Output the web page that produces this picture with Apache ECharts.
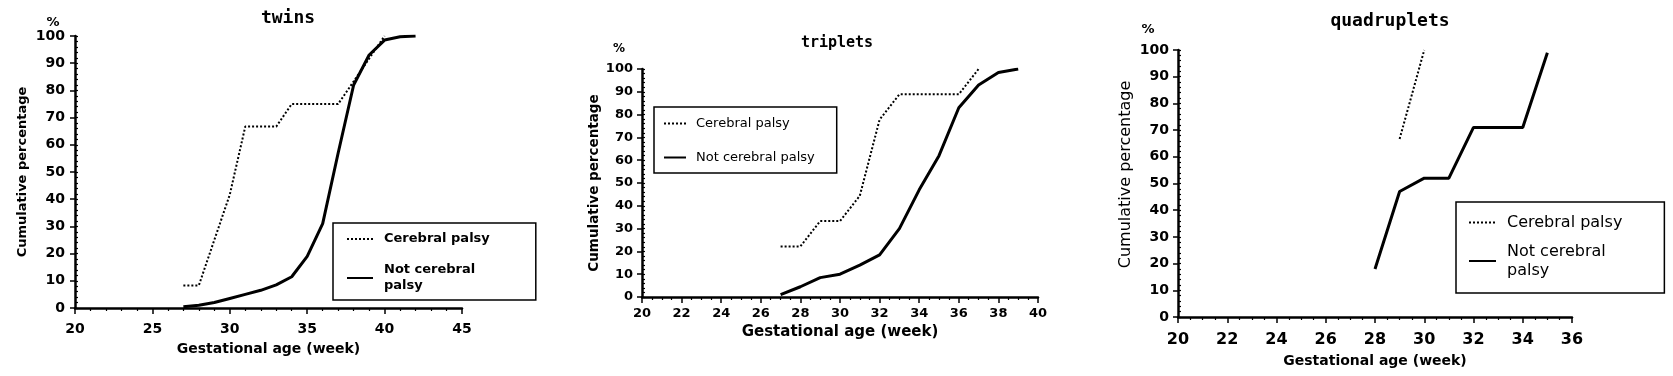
<!DOCTYPE html>
<html>
<head>
<meta charset="utf-8">
<script src="https://cdn.jsdelivr.net/npm/echarts@6/dist/echarts.min.js"></script>
<style>
  html, body { margin: 0; padding: 0; background: #fff; }
  #chart { width: 1673px; height: 376px; }
</style>
</head>
<body>
<div id="chart"></div>
<script>
// Cumulative percentage by gestational age, three panels

// twins
const twinsCpWeeks = [27, 28, 29, 30, 31, 32, 33, 34, 35, 36, 37, 38, 39, 40];
const twinsCp = [8.3, 8.3, 25, 41.7, 66.7, 66.7, 66.7, 75, 75, 75, 75, 83.3, 91.7, 100];
const twinsNotCpWeeks = [27, 28, 29, 30, 31, 32, 33, 34, 35, 36, 37, 38, 39, 40, 41, 42];
const twinsNotCp = [0.5, 1, 2, 3.5, 5, 6.5, 8.5, 11.5, 19, 31, 57, 82, 93, 98.5, 99.7, 100];

// triplets
const tripCpWeeks = [27, 28, 29, 30, 31, 32, 33, 34, 35, 36, 37];
const tripCp = [22.2, 22.2, 33.3, 33.3, 44.4, 77.8, 88.9, 88.9, 88.9, 88.9, 100];
const tripNotCpWeeks = [27, 28, 29, 30, 31, 32, 33, 34, 35, 36, 37, 38, 39];
const tripNotCp = [1, 4.5, 8.5, 10, 14, 18.5, 30, 47, 62, 83, 93, 98.5, 100];

// quadruplets
const quadCpWeeks = [29, 30];
const quadCp = [66.7, 100];
const quadNotCpWeeks = [28, 29, 30, 31, 32, 33, 34, 35];
const quadNotCp = [18, 47, 52, 52, 71, 71, 71, 99];

const zip = (xs, ys) => xs.map((x, i) => [x, ys[i]]);

const SANS = 'DejaVu Sans';
const MONO = 'DejaVu Sans Mono';

const chart = echarts.init(document.getElementById('chart'));

function xAxis(gridIndex, min, max, interval, minorSplit, o) {
    return {
        type: 'value', gridIndex, min, max, interval,
        axisLine: { show: true, onZero: false, lineStyle: { color: '#000', width: 2.5 } },
        axisTick: { show: true, length: 6, lineStyle: { color: '#000', width: 1.5 } },
        minorTick: { show: true, splitNumber: minorSplit, length: 3, lineStyle: { color: '#000', width: 1.2 } },
        splitLine: { show: false },
        axisLabel: {
            margin: o.labelMargin, color: '#000', fontFamily: SANS,
            fontWeight: 'bold', fontSize: o.labelSize
        },
        name: 'Gestational age (week)',
        nameLocation: 'middle',
        nameGap: o.nameGap,
        nameTextStyle: { color: '#000', fontFamily: SANS, fontWeight: 'bold', fontSize: o.nameSize }
    };
}

function yAxis(gridIndex, o) {
    return {
        type: 'value', gridIndex, min: 0, max: 100, interval: 10,
        position: 'left',
        axisLine: { show: true, onZero: false, lineStyle: { color: '#000', width: 2.5 } },
        axisTick: { show: true, length: 5, lineStyle: { color: '#000', width: 1.5 } },
        splitLine: { show: false },
        axisLabel: {
            margin: o.labelMargin, color: '#000', fontFamily: SANS,
            fontWeight: 'bold', fontSize: o.labelSize
        },
        name: 'Cumulative percentage',
        nameLocation: 'middle',
        nameGap: o.nameGap,
        nameTextStyle: {
            color: '#000', fontFamily: SANS,
            fontWeight: o.nameWeight || 'bold', fontSize: o.nameSize,
            padding: o.namePadding || 0
        }
    };
}

// overlay axis so the small y ticks sit inside the plot
function yMinor(gridIndex) {
    return {
        type: 'value', gridIndex, min: 0, max: 100, interval: 10,
        position: 'left', offset: 0,
        axisLine: { show: false, onZero: false },
        axisTick: { show: true, inside: true, length: 3, lineStyle: { color: '#000', width: 1.2 } },
        minorTick: { show: true, splitNumber: 5, length: 3, lineStyle: { color: '#000', width: 1.2 } },
        splitLine: { show: false },
        axisLabel: { show: false }
    };
}

const dotted = { color: '#000', width: 2, type: 'dotted' };
const solid = { color: '#000', width: 3, type: 'solid' };

function line(name, data, idx, style) {
    return {
        name, type: 'line', data,
        xAxisIndex: idx, yAxisIndex: idx,
        symbol: 'none', silent: true,
        lineStyle: style, itemStyle: { color: '#000' },
        z: style === solid ? 3 : 4
    };
}

function legend(o) {
    return {
        orient: 'vertical', left: o.left, top: o.top,
        data: o.data,
        itemWidth: o.itemWidth, itemHeight: 10, itemGap: o.itemGap,
        padding: o.padding,
        borderColor: '#000', borderWidth: 1.5,
        selectedMode: false,
        itemStyle: { color: 'rgba(0,0,0,0)', borderWidth: 0, opacity: 0 },
        textStyle: {
            color: '#000', fontFamily: SANS, fontWeight: o.weight,
            fontSize: o.fontSize, lineHeight: o.lineHeight,
            padding: [0, 0, 0, o.textGap]
        }
    };
}

function label(text, x, y, font) {
    return {
        type: 'text', x, y, silent: true,
        style: {
            text, font, fill: '#000',
            align: 'center', verticalAlign: 'middle',
            textAlign: 'center', textVerticalAlign: 'middle'
        }
    };
}

const option = {
    animation: false,
    backgroundColor: '#fff',
    grid: [
        { left: 75, top: 36, width: 387, height: 272 },
        { left: 642, top: 69, width: 396, height: 228 },
        { left: 1178, top: 50, width: 394, height: 267 }
    ],
    xAxis: [
        xAxis(0, 20, 45, 5, 5, { labelSize: 14, labelMargin: 14, nameGap: 34, nameSize: 14 }),
        xAxis(1, 20, 40, 2, 4, { labelSize: 13, labelMargin: 10, nameGap: 28, nameSize: 15 }),
        xAxis(2, 20, 36, 2, 4, { labelSize: 16, labelMargin: 15, nameGap: 37, nameSize: 14 })
    ],
    yAxis: [
        yAxis(0, { labelSize: 14, labelMargin: 10, nameGap: 46, nameSize: 13 }),
        yAxis(1, { labelSize: 13, labelMargin: 9, nameGap: 40, nameSize: 13.5 }),
        yAxis(2, { labelSize: 14, labelMargin: 9, nameGap: 44, nameSize: 16, nameWeight: 'normal', namePadding: [0, 0, 0, 18] }),
        yMinor(0), yMinor(1), yMinor(2)
    ],
    legend: [
        legend({
            left: 333, top: 223, data: ['Cerebral palsy', 'Not cerebral\npalsy'],
            itemWidth: 26, itemGap: 15, padding: [8, 46, 6, 13], textGap: 6,
            weight: 'bold', fontSize: 13, lineHeight: 16
        }),
        legend({
            left: 654, top: 107, data: ['Cerebral palsy', 'Not cerebral palsy'],
            itemWidth: 22, itemGap: 19, padding: [9, 22, 8, 9], textGap: 5,
            weight: 'normal', fontSize: 13, lineHeight: 15
        }),
        legend({
            left: 1456, top: 202, data: ['Cerebral palsy', 'Not cerebral\npalsy'],
            itemWidth: 27, itemGap: 10, padding: [11, 42, 13, 12], textGap: 6,
            weight: 'normal', fontSize: 16, lineHeight: 19
        })
    ],
    graphic: [
        label('twins', 288, 18, 'bold 18px ' + MONO),
        label('triplets', 837, 43, 'bold 15px ' + MONO),
        label('quadruplets', 1390, 21, 'bold 18px ' + MONO),
        label('%', 53, 23, 'bold 13px ' + SANS),
        label('%', 619, 49, 'bold 12px ' + SANS),
        label('%', 1148, 30, 'bold 13px ' + SANS)
    ],
    series: [
        line('Not cerebral\npalsy', zip(twinsNotCpWeeks, twinsNotCp), 0, solid),
        line('Cerebral palsy', zip(twinsCpWeeks, twinsCp), 0, dotted),
        line('Not cerebral palsy', zip(tripNotCpWeeks, tripNotCp), 1, solid),
        line('Cerebral palsy', zip(tripCpWeeks, tripCp), 1, dotted),
        line('Not cerebral\npalsy', zip(quadNotCpWeeks, quadNotCp), 2, solid),
        line('Cerebral palsy', zip(quadCpWeeks, quadCp), 2, dotted)
    ]
};

chart.setOption(option);
</script>
</body>
</html>
